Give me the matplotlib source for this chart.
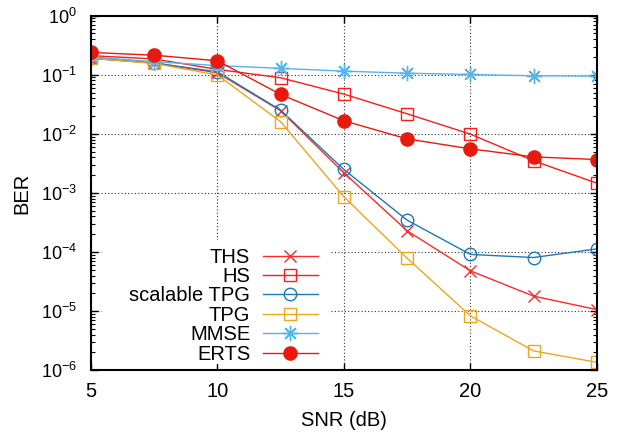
import numpy as np
import matplotlib
matplotlib.use("Agg")
import matplotlib.pyplot as plt
from matplotlib.patches import Rectangle
from matplotlib.ticker import LogLocator, FixedLocator, NullFormatter

plt.rcParams['font.family'] = ['Liberation Sans', 'DejaVu Sans']
plt.rcParams['mathtext.fontset'] = 'custom'
plt.rcParams['mathtext.rm'] = 'Liberation Sans'
plt.rcParams['mathtext.it'] = 'Liberation Sans:italic'
plt.rcParams['mathtext.bf'] = 'Liberation Sans:bold'

snr = [5, 7.5, 10, 12.5, 15, 17.5, 20, 22.5, 25]

ber_ths = [0.19, 0.158, 0.108, 0.0245, 0.00219, 2.28e-4, 4.8e-5, 1.79e-5, 1.06e-5]
ber_hs = [0.21, 0.185, 0.123, 0.0887, 0.0469, 0.0218, 0.00987, 0.00349, 0.00146]
ber_stpg = [0.19, 0.158, 0.112, 0.0251, 0.00249, 3.46e-4, 9.1e-5, 8.07e-5, 1.13e-4]
ber_tpg = [0.19, 0.155, 0.099, 0.016, 8.6e-4, 7.85e-5, 8.3e-6, 2.12e-6, 1.36e-6]
ber_mmse = [0.2, 0.166, 0.143, 0.128, 0.115, 0.106, 0.101, 0.0959, 0.0946]
ber_erts = [0.238, 0.214, 0.172, 0.0463, 0.0166, 0.0082, 0.00557, 0.00407, 0.00367]

labels = ['THS', 'HS', 'scalable TPG', 'TPG', 'MMSE', 'ERTS']
x_ticks = [5, 10, 15, 20, 25]
y_ticks = [1e-6, 1e-5, 1e-4, 1e-3, 1e-2, 1e-1, 1e0]

fig = plt.figure(figsize=(6.23, 4.34), dpi=100)
ax = fig.add_axes([0.146, 0.147, 0.812, 0.817])

lw = 1.0
ax.plot(snr, ber_ths, color='#ff2a2a', lw=lw, marker='x', ms=9, mew=1.0, label=labels[0])
ax.plot(snr, ber_hs, color='#ff1a1a', lw=lw, marker='s', ms=9, mfc='none', mew=1.0, label=labels[1])
ax.plot(snr, ber_stpg, color='#1f78b4', lw=lw, marker='o', ms=9, mfc='none', mew=1.0, label=labels[2])
ax.plot(snr, ber_tpg, color='#e9a820', lw=lw, marker='s', ms=9, mfc='none', mew=1.0, label=labels[3])
ax.plot(snr, ber_mmse, color='#56b4e9', lw=lw, marker=(8, 2, 0), ms=11, mew=1.0, label=labels[4])
ax.plot(snr, ber_erts, color='#e8190f', lw=lw, marker='o', ms=9.5, mfc='#e8190f', label=labels[5])

ax.set_yscale('log')
ax.set_xlim(x_ticks[0], x_ticks[-1])
ax.set_ylim(y_ticks[0], y_ticks[-1])
ax.xaxis.set_major_locator(FixedLocator(x_ticks))
ax.yaxis.set_major_locator(FixedLocator(y_ticks))
ax.yaxis.set_minor_locator(LogLocator(base=10, subs=np.arange(2, 10), numticks=20))
ax.yaxis.set_minor_formatter(NullFormatter())

ax.grid(True, which='major', linestyle=(0, (1, 2)), color='#333333', linewidth=0.8)
ax.tick_params(which='both', direction='in', top=True, right=True)
ax.tick_params(which='major', length=5, width=1.0)
ax.tick_params(which='minor', length=3, width=0.8)
ax.tick_params(axis='x', which='major', labelsize=14.5, pad=8.5)
ax.tick_params(axis='y', which='major', labelsize=13, pad=10)
for sp in ax.spines.values():
    sp.set_linewidth(1.5)

ax.set_xlabel('SNR (dB)', fontsize=14.5, labelpad=7)
ax.set_ylabel('BER', fontsize=14.5, labelpad=7)

# opaque key area: hides the grid behind the key but stops short of the bottom ticks
ax.add_patch(Rectangle((0.0217, 0.017), 0.4506, 0.35, transform=ax.transAxes,
                       facecolor='white', edgecolor='none', zorder=1.6))

leg = ax.legend(loc='lower right', bbox_to_anchor=(0.480, -0.027), markerfirst=False,
                fontsize=14.5, frameon=False, handlelength=2.7,
                handletextpad=0.65, labelspacing=0.02, borderpad=0.3)

fig.savefig('out.png', dpi=100)
